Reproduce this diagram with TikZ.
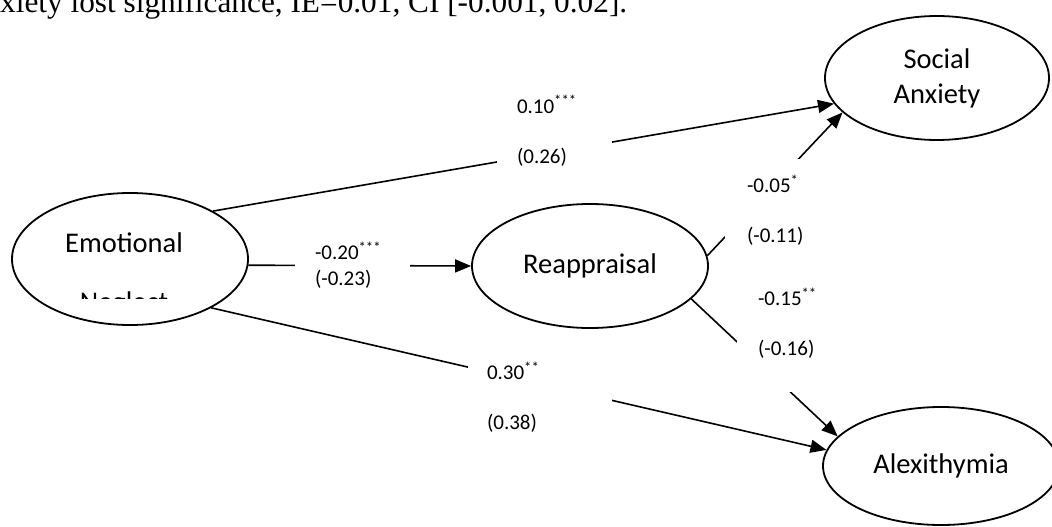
\documentclass[tikz,border=0pt]{standalone}
\usepackage{fontspec}
\setmainfont{Carlito}
\newfontfamily\captionserif{Liberation Serif}
\usetikzlibrary{shapes.geometric,arrows.meta,positioning}
\newcommand{\namefont}{\fontsize{28.5}{35}\selectfont}
\newcommand{\coeffont}{\fontsize{21}{50}\selectfont}

\begin{document}
\begin{tikzpicture}[
        x=1pt, y=-1pt,
        latent/.style={ellipse, draw=black, line width=1.8pt, inner sep=0pt, align=center, font=\namefont},
        coef/.style={rectangle, fill=white, inner xsep=20pt, inner ysep=8pt, text width=75pt, align=left, font=\coeffont},
        arrow/.style={line width=1.6pt, -{Triangle[length=16pt,width=13pt]}}
    ]
        \useasboundingbox (0,0) rectangle (1052,527);

        % Text cut off above the figure
        \node (caption) [anchor=base west, inner sep=0pt, font=\captionserif\fontsize{31.3}{36}\selectfont] at (0,13) {xiety lost significance, IE=0.01, CI [-0.001, 0.02].};

        % Latent variables
        \node (neglect) [latent, minimum width=236pt, minimum height=132pt] at (130,259) {};
        \node (neglect-top) [anchor=base, font=\namefont] at (124,252) {Emotional};
        \begin{scope}
            \clip (40,230) rectangle (220,298);
            \node (neglect-bottom) [anchor=base, font=\namefont] at (124,311) {Neglect};
        \end{scope}
        \node (reapp) [latent, minimum width=236pt, minimum height=124pt] at (590,266) {Reappraisal};
        \node (social) [latent, minimum width=224pt, minimum height=124pt] at (937,78) {Social\\Anxiety};
        \node (alexi) [latent, minimum width=236pt, minimum height=118pt] at (941,466) {Alexithymia};

        % Paths
        \draw[arrow] (neglect.30) -- (social.194);
        \draw[arrow] (neglect.-3) -- (reapp.west);
        \draw[arrow] (neglect.-31) -- (alexi.172);
        \draw[arrow] (reapp.5) -- (social.200);
        \draw[arrow] (reapp.-18) -- (alexi.164);

        % Coefficients
        \node (coef-ne-sa) [coef] at (554.5,131) {0.10\textsuperscript{***}\\(0.26)};
        \node (coef-ne-re) [coef, inner ysep=6pt, font=\fontsize{21}{26}\selectfont] at (352.5,265) {-0.20\textsuperscript{***}\\(-0.23)};
        \node (coef-ne-al) [coef, inner xsep=19pt, inner ysep=4pt, text width=106pt] at (540,397) {0.30\textsuperscript{**}\\(0.38)};
        \node (coef-re-sa) [coef, inner xsep=22pt, inner ysep=16pt, text width=60pt] at (777,210) {-0.05\textsuperscript{*}\\(-0.11)};
        \node (coef-re-al) [coef, inner xsep=21pt, inner ysep=34pt, text width=60pt] at (788,323) {-0.15\textsuperscript{**}\\(-0.16)};
    \end{tikzpicture}
\end{document}
